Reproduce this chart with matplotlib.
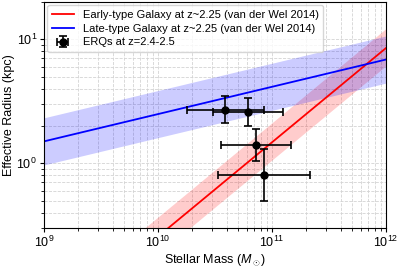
import numpy as np
import matplotlib
matplotlib.use("Agg")
import matplotlib.pyplot as plt

plt.rcParams['font.family'] = ['Liberation Sans', 'DejaVu Sans']
plt.rcParams['mathtext.fontset'] = 'custom'
plt.rcParams['mathtext.it'] = 'Liberation Sans:italic'
plt.rcParams['mathtext.rm'] = 'Liberation Sans'

# van der Wel 2014 size-mass relations at z~2.25: log r = logA + alpha*log(M/5e10)
early_logA, early_alpha, early_sigma = -0.06, 0.76, 0.15
late_logA, late_alpha, late_sigma = 0.55, 0.22, 0.19

# ERQs (log values)
erq_logm = [10.59, 10.79, 10.86, 10.93]
erq_logm_err = [0.34, 0.31, 0.31, 0.40]
erq_logr = [0.433, 0.414, 0.145, -0.097]
erq_logr_err = [0.107, 0.114, 0.13, 0.21]

logm = np.linspace(9, 12, 200)
m = 10**logm

def relation(logA, alpha):
    return logA + alpha * (logm - np.log10(5e10))

fig = plt.figure(figsize=(4, 2.68), dpi=100)
ax = fig.add_axes([0.11, 0.149, 0.855, 0.844])

r_early = relation(early_logA, early_alpha)
r_late = relation(late_logA, late_alpha)

ax.fill_between(m, 10**(r_early - early_sigma), 10**(r_early + early_sigma),
                color='red', alpha=0.2, lw=0)
ax.fill_between(m, 10**(r_late - late_sigma), 10**(r_late + late_sigma),
                color='blue', alpha=0.2, lw=0)
ax.plot(m, 10**r_early, color='red', lw=1.3,
        label='Early-type Galaxy at z~2.25 (van der Wel 2014)')
ax.plot(m, 10**r_late, color='blue', lw=1.3,
        label='Late-type Galaxy at z~2.25 (van der Wel 2014)')

x = 10**np.array(erq_logm)
y = 10**np.array(erq_logr)
xerr = [x - 10**(np.array(erq_logm) - erq_logm_err), 10**(np.array(erq_logm) + erq_logm_err) - x]
yerr = [y - 10**(np.array(erq_logr) - erq_logr_err), 10**(np.array(erq_logr) + erq_logr_err) - y]
ax.errorbar(x, y, xerr=xerr, yerr=yerr, fmt='o', color='black', ms=5,
            capsize=3, elinewidth=1.2, capthick=1.2, label='ERQs at z=2.4-2.5')

ax.set_xscale('log')
ax.set_yscale('log')
ax.set_xlim(1e9, 1e12)
ax.set_ylim(0.3, 20)
ax.grid(True, which='both', ls='--', color='lightgray', lw=0.6)
ax.set_axisbelow(True)
ax.tick_params(labelsize=9, pad=2, length=3)
ax.tick_params(which='minor', length=2)
ax.set_xlabel(r'Stellar Mass ($M_\odot$)', fontsize=9, labelpad=1)
ax.set_ylabel('Effective Radius (kpc)', fontsize=9, labelpad=1)
ax.legend(loc='upper left', fontsize=8, borderaxespad=0.3, labelspacing=0.35)

fig.savefig('out.png', dpi=100)
